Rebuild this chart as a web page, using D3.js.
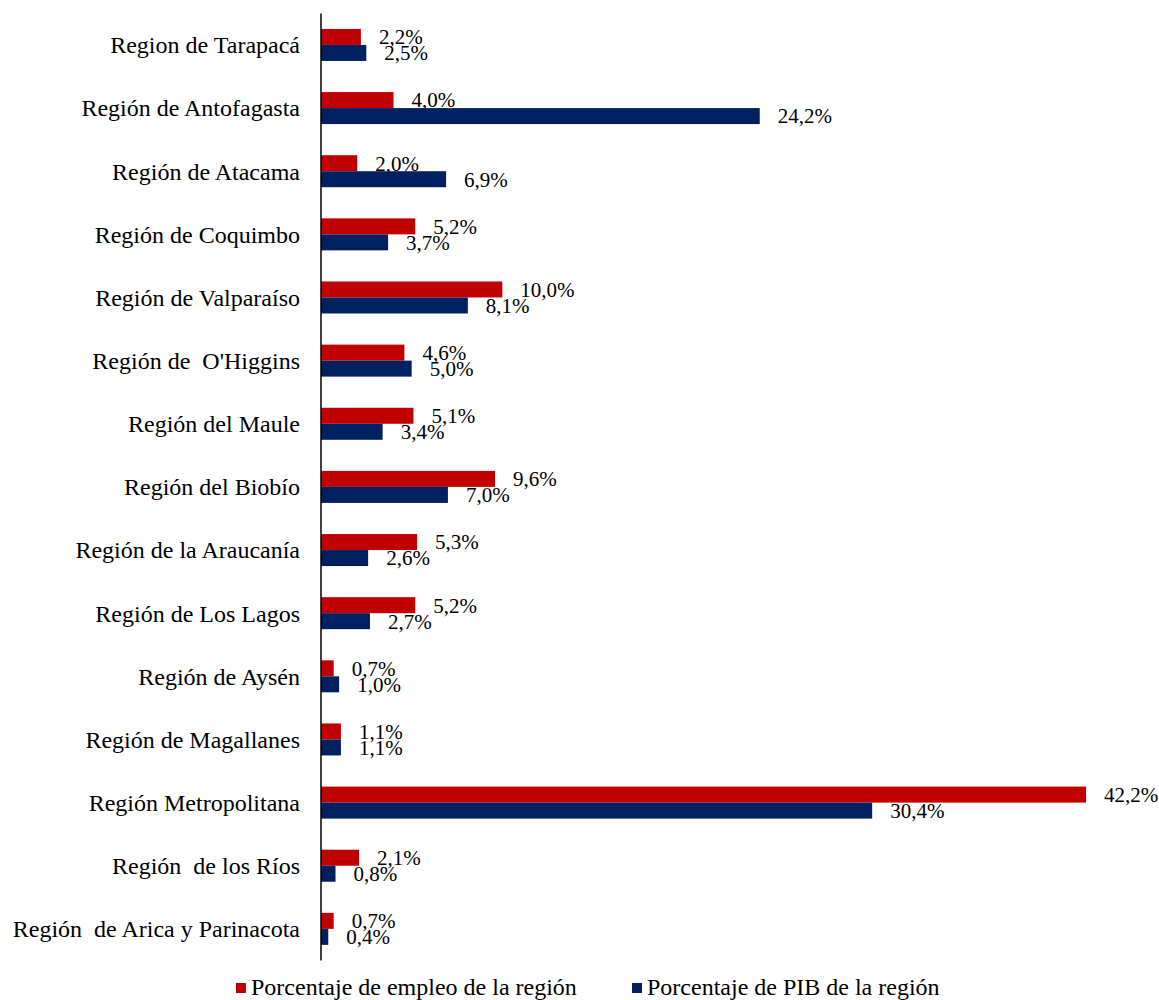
<!DOCTYPE html>
<html>
<head>
<meta charset="utf-8">
<script src="https://cdn.jsdelivr.net/npm/d3@7"></script>
<style>
  body { margin: 0; background: #fff; }
  text { font-family: "Liberation Serif", "Times New Roman", serif; fill: #000; white-space: pre; }
</style>
</head>
<body>
<div id="container"></div>
<script>
// Regiones (de arriba hacia abajo)
const regiones = [
  "Region de Tarapacá",
  "Región de Antofagasta",
  "Región de Atacama",
  "Región de Coquimbo",
  "Región de Valparaíso",
  "Región de  O'Higgins",
  "Región del Maule",
  "Región del Biobío",
  "Región de la Araucanía",
  "Región de Los Lagos",
  "Región de Aysén",
  "Región de Magallanes",
  "Región Metropolitana",
  "Región  de los Ríos",
  "Región  de Arica y Parinacota"
];

// Porcentaje de empleo de la región
const empleo = [2.2, 4.0, 2.0, 5.2, 10.0, 4.6, 5.1, 9.6, 5.3, 5.2, 0.7, 1.1, 42.2, 2.1, 0.7];
// Porcentaje de PIB de la región
const pib = [2.5, 24.2, 6.9, 3.7, 8.1, 5.0, 3.4, 7.0, 2.6, 2.7, 1.0, 1.1, 30.4, 0.8, 0.4];

const series = [
  { nombre: "Porcentaje de empleo de la región", valores: empleo, color: "#C00000" },
  { nombre: "Porcentaje de PIB de la región", valores: pib, color: "#002060" }
];

const width = 1159, height = 1000;
const axisX = 321;

const svg = d3.select("#container").append("svg")
  .attr("width", width)
  .attr("height", height);

// Escalas
const y = d3.scaleBand()
  .domain(regiones)
  .range([13.4, 960.4])
  .paddingInner(0.493)
  .paddingOuter(0.246);

const ySub = d3.scaleBand()
  .domain(series.map(s => s.nombre))
  .range([0, y.bandwidth()]);

const x = d3.scaleLinear()
  .domain([0, 45])
  .range([axisX, axisX + 18.13 * 45]);

const fmt = v => d3.format(".1f")(v).replace(".", ",") + "%";

// Barras + etiquetas
series.forEach(s => {
  const g = svg.append("g");
  g.selectAll("rect")
    .data(regiones)
    .enter().append("rect")
    .attr("x", x(0))
    .attr("y", d => y(d) + ySub(s.nombre))
    .attr("width", (d, i) => x(s.valores[i]) - x(0))
    .attr("height", ySub.bandwidth())
    .attr("fill", s.color);

  g.selectAll("text")
    .data(regiones)
    .enter().append("text")
    .attr("x", (d, i) => x(s.valores[i]) + 18)
    .attr("y", d => y(d) + ySub(s.nombre) + ySub.bandwidth() / 2)
    .attr("dy", "0.35em")
    .style("font-size", "21px")
    .text((d, i) => fmt(s.valores[i]));
});

// Eje Y
const axis = svg.append("g")
  .attr("transform", `translate(${axisX},0)`)
  .call(d3.axisLeft(y).tickSize(0).tickPadding(21));
axis.select(".domain").attr("stroke", "#000").attr("stroke-width", 1.5)
  .attr("d", `M0,${y.range()[0]}V${y.range()[1]}`);
axis.selectAll("text")
  .style("font-size", "24px")
  .style("font-family", "'Liberation Serif', 'Times New Roman', serif")
  .attr("dy", "0.35em");
axis.selectAll(".tick line").remove();

// Leyenda
const leyenda = svg.append("g");
const posLeyenda = [236, 632];
series.forEach((s, i) => {
  leyenda.append("rect")
    .attr("x", posLeyenda[i])
    .attr("y", 983)
    .attr("width", 10)
    .attr("height", 10)
    .attr("fill", s.color);
  leyenda.append("text")
    .attr("x", posLeyenda[i] + 15)
    .attr("y", 995)
    .style("font-size", "24px")
    .text(s.nombre);
});
</script>
</body>
</html>
